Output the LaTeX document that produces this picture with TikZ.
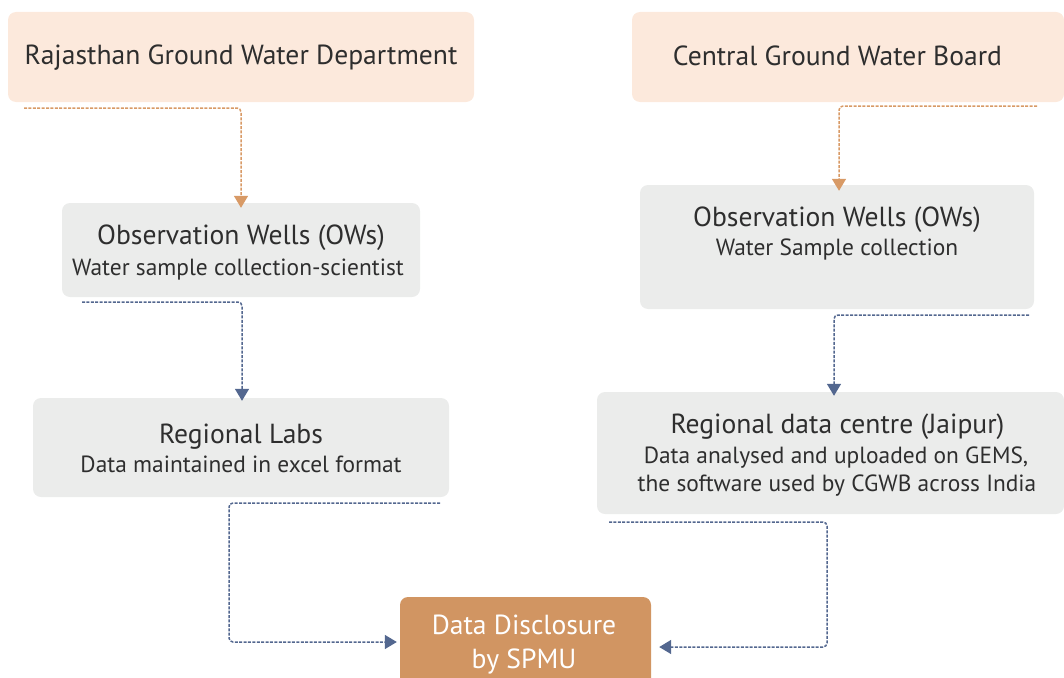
\documentclass[tikz,border=0pt]{standalone}
\usepackage{fontspec}
\setmainfont{PT Sans}
\usetikzlibrary{arrows.meta}
\definecolor{peach}{HTML}{FCE9DC}
\definecolor{greybox}{HTML}{EBECEB}
\definecolor{ochre}{HTML}{D19562}
\definecolor{ochreline}{HTML}{D89A66}
\definecolor{blueline}{HTML}{53678F}
\definecolor{txt}{HTML}{2E2E2E}
\tikzset{
  box/.style={rounded corners=8pt, draw=none, inner sep=0pt},
  peachbox/.style={box, fill=peach},
  greyb/.style={box, fill=greybox},
  ochrebox/.style={box, fill=ochre},
  big/.style={anchor=base, text=txt, font=\fontsize{27.6}{30}\selectfont, inner sep=0pt},
  small/.style={anchor=base, text=txt, font=\fontsize{23.4}{26}\selectfont, inner sep=0pt},
  white/.style={anchor=base, text=white, font=\fontsize{27.6}{30}\selectfont, inner sep=0pt},
  conn/.style={line width=1.5pt, dash pattern=on 3pt off 1.4pt, rounded corners=4pt,
    -{Triangle[width=14pt,length=12pt]}},
  oconn/.style={conn, draw=ochreline},
  bconn/.style={conn, draw=blueline},
}
\begin{document}
\begin{tikzpicture}[x=1pt,y=-1pt]
\useasboundingbox (0,0) rectangle (1064,677);
\clip (0,0) rectangle (1064,677);
% boxes
\node[peachbox, minimum width=466pt, minimum height=90pt] (A) at (241,57) {};
\node[peachbox, minimum width=432pt, minimum height=90pt] (B) at (848,57) {};
\node[greyb, minimum width=358pt, minimum height=94pt] (C) at (241,250) {};
\node[greyb, minimum width=394pt, minimum height=124pt] (D) at (837,247) {};
\node[greyb, minimum width=416pt, minimum height=99pt] (E) at (241,447.5) {};
\node[greyb, minimum width=467pt, minimum height=122pt] (F) at (830.5,453) {};
\node[ochrebox, minimum width=251pt, minimum height=94pt] (G) at (525.5,644) {};
% texts
\node[big] (tA) at (241,64) {Rajasthan Ground Water Department};
\node[big] (tB) at (837.5,66) {Central Ground Water Board};
\node[big] (tC1) at (241,244) {Observation Wells (OWs)};
\node[small] (tC2) at (238,275) {Water sample collection-scientist};
\node[big] (tD1) at (837,226) {Observation Wells (OWs)};
\node[small] (tD2) at (837,255) {Water Sample collection};
\node[big] (tE1) at (241,443) {Regional Labs};
\node[small] (tE2) at (241,472) {Data maintained in excel format};
\node[big] (tF1) at (837.5,433) {Regional data centre (Jaipur)};
\node[small] (tF2) at (836,463) {Data analysed and uploaded on GEMS,};
\node[small] (tF3) at (837,491) {the software used by CGWB across India};
\node[white] (tG1) at (524,634) {Data Disclosure};
\node[white] (tG2) at (524,668) {by SPMU};
% connector free ends
\coordinate (s1) at (24,108);
\coordinate (s2) at (1037,106);
\coordinate (s3) at (82,302);
\coordinate (s4) at (1029,315);
\coordinate (s5) at (440,503);
\coordinate (s6) at (609,522);
\coordinate (y5) at (0,642);
\coordinate (y6) at (0,647);
% connectors
\draw[oconn] (s1) -| ([yshift=-5pt]C.north);
\draw[oconn] (s2) -| ([xshift=2pt,yshift=-6pt]D.north);
\draw[bconn] (s3) -| ([xshift=1pt,yshift=-3pt]E.north);
\draw[bconn] (s4) -| ([xshift=3.5pt,yshift=-4pt]F.north);
\draw[bconn] (s5) -- (229,503) |- ([xshift=-3pt]G.west |- y5);
\draw[bconn] (s6) -- (827,522) |- ([xshift=8pt]G.east |- y6);
\end{tikzpicture}
\end{document}
